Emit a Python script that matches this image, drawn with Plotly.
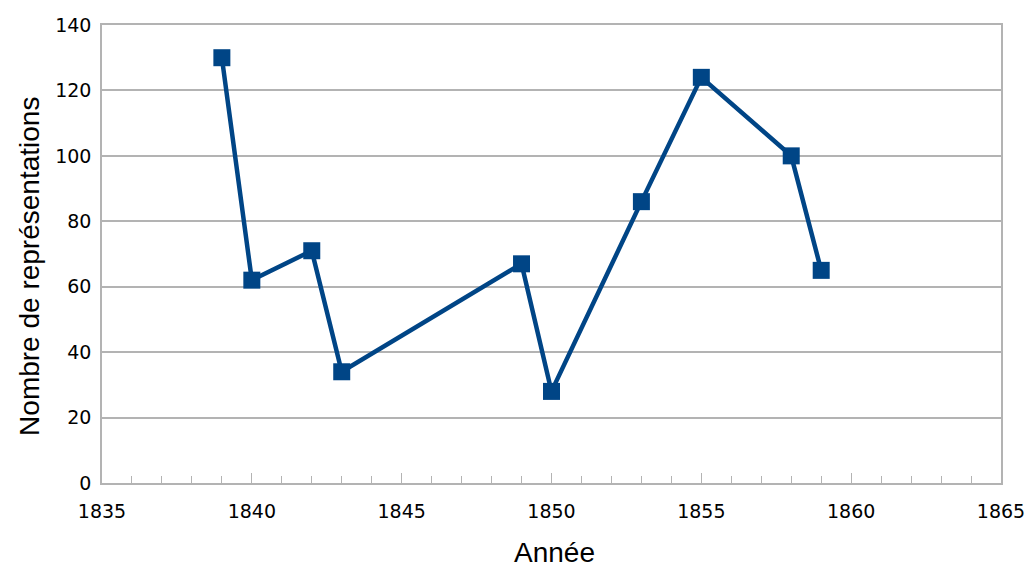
import plotly.graph_objects as go

years = [1839, 1840, 1842, 1843, 1849, 1850, 1853, 1855, 1858, 1859]
representations = [130, 62, 71, 34, 67, 28, 86, 124, 100, 65]
x_ticks = [1835, 1840, 1845, 1850, 1855, 1860, 1865]
y_ticks = [0, 20, 40, 60, 80, 100, 120, 140]

color = "#004586"
grid = "#b3b3b3"

fig = go.Figure()
fig.add_trace(go.Scatter(
    x=years, y=representations, mode="lines+markers",
    line=dict(color=color, width=4.5),
    marker=dict(symbol="square", size=17, color=color),
    showlegend=False,
    cliponaxis=False,
))

fig.update_layout(
    width=1029, height=571,
    margin=dict(l=102, r=28, t=25, b=88),
    paper_bgcolor="white", plot_bgcolor="white",
    font=dict(family="Liberation Sans, Arial, sans-serif", color="#000000"),
)
fig.update_xaxes(
    range=[1835, 1865], tickvals=x_ticks, automargin=False,
    ticks="inside", ticklen=10, tickcolor=grid, tickwidth=1,
    minor=dict(dtick=1, ticks="inside", ticklen=7, tickcolor=grid, showgrid=False),
    showgrid=False, showline=True, linecolor=grid, linewidth=1.5, mirror=True,
    zeroline=False,
    tickfont=dict(size=19, family="DejaVu Sans"), ticklabelstandoff=10,
)
fig.update_yaxes(
    range=[0, 140], tickvals=y_ticks, automargin=False,
    showgrid=True, gridcolor=grid, gridwidth=1.5,
    showline=True, linecolor=grid, linewidth=1.5, mirror=True,
    zeroline=False, ticks="",
    tickfont=dict(size=19, family="DejaVu Sans"), ticklabelstandoff=5,
)
fig.add_annotation(
    text="Nombre de représentations", textangle=-90,
    xref="paper", yref="paper", x=-0.08, y=0.472,
    xanchor="center", yanchor="middle", showarrow=False,
    font=dict(size=28),
)
fig.add_annotation(
    text="Année",
    xref="paper", yref="paper", x=0.503, y=-0.152,
    xanchor="center", yanchor="middle", showarrow=False,
    font=dict(size=28),
)

fig.write_html("out.html", config={"displayModeBar": False},
               post_script="document.body.style.margin='0';")
